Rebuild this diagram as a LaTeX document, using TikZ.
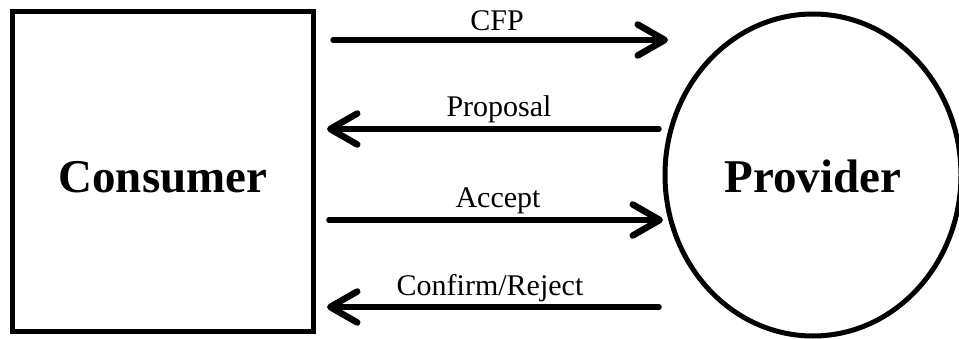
\documentclass[tikz,border=0pt]{standalone}
\usepackage{fontspec}
\setmainfont{Liberation Serif}
\usetikzlibrary{arrows.meta,shapes.geometric}
\begin{document}
\begin{tikzpicture}[x=1pt,y=-1pt,
  agent/.style={draw=black,line width=5pt,inner sep=0pt,
    font=\fontsize{47}{52}\selectfont\bfseries},
  msg/.style={line width=5.5pt,line cap=round,
    -{Straight Barb[length=27pt,width=31pt,line width=6.5pt,line cap=round,line join=round]}},
  msglabel/.style={font=\fontsize{30}{34}\selectfont,anchor=base,inner sep=0pt}]
  \useasboundingbox (0,0) rectangle (959,339);
  \clip (0,0) rectangle (959,339);

  % the two agents
  \node[agent,rectangle,minimum width=300.5pt,minimum height=319pt,
        text height=43pt,text depth=0pt] (cons) at (163,171.5) {Consumer};
  \node[agent,ellipse,minimum width=296pt,minimum height=322pt,
        text height=36pt,text depth=0pt] (prov) at (813,175) {Provider};

  % message end points
  \coordinate (cfpA) at (333,40);   \coordinate (cfpB) at (668,40);
  \coordinate (prpA) at (659,129);  \coordinate (prpB) at (327,129);
  \coordinate (accA) at (329,220);  \coordinate (accB) at (663,220);
  \coordinate (cnfA) at (659,307);  \coordinate (cnfB) at (327,307);

  % messages
  \draw[msg] (cfpA) -- (cfpB);
  \draw[msg] (prpA) -- (prpB);
  \draw[msg] (accA) -- (accB);
  \draw[msg] (cnfA) -- (cnfB);

  % message names
  \node[msglabel] (cfpT) at (497,30.5) {CFP};
  \node[msglabel] (prpT) at (499,117) {Proposal};
  \node[msglabel] (accT) at (498,208) {Accept};
  \node[msglabel] (cnfT) at (490,295) {Confirm/Reject};
\end{tikzpicture}
\end{document}
